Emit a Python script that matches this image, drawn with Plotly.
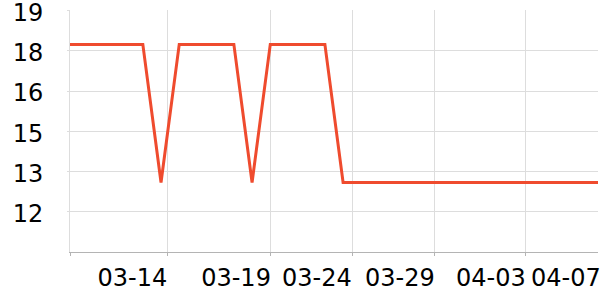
import plotly.graph_objects as go
import numpy as np

# data: 30 samples, index positions along the x axis
values = [18.2, 18.2, 18.2, 18.2, 18.2, 12.7, 18.2, 18.2, 18.2, 18.2,
          12.7, 18.2, 18.2, 18.2, 18.2, 12.7, 12.7, 12.7, 12.7, 12.7,
          12.7, 12.7, 12.7, 12.7, 12.7, 12.7, 12.7, 12.7, 12.7, 12.7]
x_index = list(range(len(values)))

# x axis: gridline positions and label positions/texts
x_grid_pos = [0, 5.35, 11, 15.5, 20, 25]
x_label_pos = [3.43, 9.12, 13.56, 18.12, 23.12, 27.24]
x_labels = ["03-14", "03-19", "03-24", "03-29", "04-03", "04-07"]

# y axis
y_min, y_max = 9.93, 19.55
y_tick_vals = [round(v, 3) for v in np.linspace(y_min, y_max, 7)[1:]]
y_tick_text = ["12", "13", "15", "16", "18", "19"]

GRID = "#dddddd"
FONT = dict(family="DejaVu Sans", size=24, color="#000000")

fig = go.Figure()
fig.add_trace(go.Scatter(
    x=x_index, y=values, mode="lines",
    line=dict(color="#EF4B2E", width=3),
    hoverinfo="skip",
))

fig.update_layout(
    width=600, height=300,
    margin=dict(l=70, r=2, t=10, b=48),
    paper_bgcolor="white", plot_bgcolor="white",
    showlegend=False,
    font=FONT,
)
fig.update_xaxes(
    range=[0, len(values) - 1], automargin=False,
    tickmode="array", tickvals=x_label_pos, ticktext=x_labels,
    ticks="", showgrid=False, zeroline=False,
    showline=True, linecolor="#b4b4b4", linewidth=1,
    tickfont=FONT, ticklabelstandoff=4, ticklabeloverflow="allow",
    minor=dict(tickmode="array", tickvals=x_grid_pos, showgrid=True,
               gridcolor=GRID, gridwidth=1, ticks="outside", ticklen=3,
               tickcolor="#b4b4b4", tickwidth=1),
)
fig.update_yaxes(
    range=[y_min, y_max + 0.02], automargin=False,
    tickmode="array", tickvals=y_tick_vals, ticktext=y_tick_text,
    ticks="outside", ticklen=2, tickcolor=GRID,
    showgrid=True, gridcolor=GRID, gridwidth=1, zeroline=False,
    showline=True, linecolor=GRID, linewidth=1,
    tickfont=FONT, ticklabelstandoff=19, ticklabeloverflow="allow",
    ticklabelshift=2,
)

fig.write_html("out.html")
